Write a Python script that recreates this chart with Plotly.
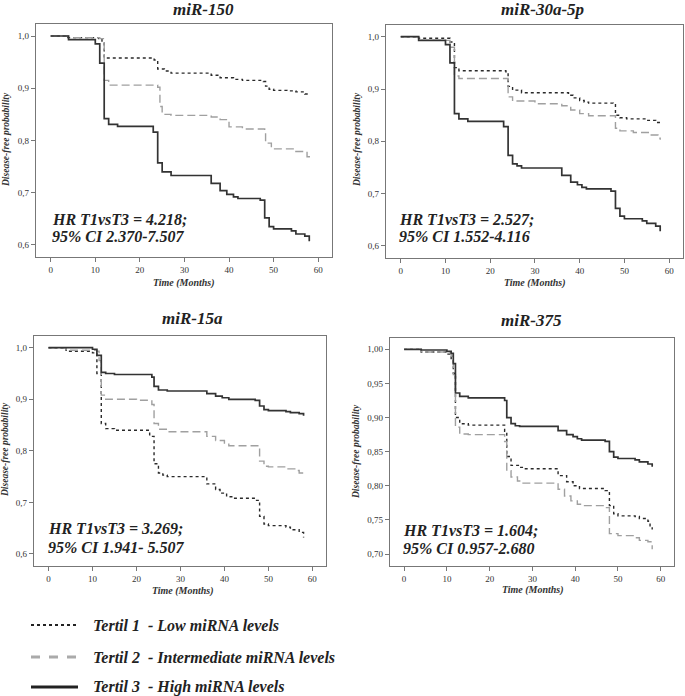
import plotly.graph_objects as go

# ---------------- data (Kaplan-Meier step curves) ----------------
panel_titles = ["miR-150", "miR-30a-5p", "miR-15a", "miR-375"]
hr_texts = [
    ["HR T1vsT3 = 4.218;", "95% CI 2.370-7.507"],
    ["HR T1vsT3 = 2.527;", "95% CI 1.552-4.116"],
    ["HR T1vsT3 = 3.269;", "95% CI 1.941- 5.507"],
    ["HR T1vsT3 = 1.604;", "95% CI 0.957-2.680"],
]
series_names = ["Tertil 1  - Low miRNA levels",
                "Tertil 2  - Intermediate miRNA levels",
                "Tertil 3  - High miRNA levels"]

# miR-150
p1_t1_x = [0, 3.6, 10.8, 11.5, 12, 23.2, 24, 25.5, 27, 36, 38, 41, 43, 47.7, 48.2, 49, 50, 53, 55, 57, 58]
p1_t1_y = [1.0, 0.997, 0.995, 0.988, 0.958, 0.954, 0.937, 0.933, 0.929, 0.925, 0.920, 0.917, 0.915, 0.913, 0.904, 0.898, 0.896, 0.895, 0.893, 0.889, 0.886]
p1_t2_x = [0, 4, 11, 12, 13, 24, 24.5, 25, 27, 36, 38, 40, 43, 48, 48.2, 49.5, 55, 57.5, 58]
p1_t2_y = [1.0, 0.997, 0.995, 0.915, 0.906, 0.902, 0.865, 0.850, 0.848, 0.845, 0.840, 0.826, 0.822, 0.820, 0.795, 0.784, 0.779, 0.769, 0.767]
p1_t3_x = [0, 4, 10, 11, 12, 13, 15, 23, 24, 25, 27, 36, 38, 39.5, 41, 42, 47, 48, 49, 50, 54, 55, 57, 58]
p1_t3_y = [1.0, 0.993, 0.985, 0.948, 0.842, 0.831, 0.827, 0.816, 0.757, 0.740, 0.733, 0.718, 0.704, 0.697, 0.692, 0.689, 0.686, 0.652, 0.635, 0.631, 0.627, 0.621, 0.617, 0.607]

# miR-30a-5p
p2_t1_x = [0, 4, 11, 12, 13, 23.5, 24, 25, 27, 37.5, 38.5, 40, 41, 42, 47.5, 48, 49, 50.5, 55, 57, 58]
p2_t1_y = [1.0, 0.997, 0.990, 0.941, 0.935, 0.933, 0.905, 0.898, 0.893, 0.888, 0.883, 0.878, 0.875, 0.873, 0.870, 0.850, 0.845, 0.843, 0.840, 0.836, 0.832]
p2_t2_x = [0, 4, 11, 12, 13, 24, 25, 30, 36, 38, 40, 42, 48, 49, 52, 56, 57.5, 58]
p2_t2_y = [1.0, 0.993, 0.980, 0.925, 0.920, 0.885, 0.877, 0.872, 0.868, 0.860, 0.853, 0.849, 0.825, 0.820, 0.817, 0.812, 0.806, 0.803]
p2_t3_x = [0, 4, 10, 11, 12, 13, 15, 23, 24, 25, 26, 27, 36, 38, 39.5, 40.5, 41.5, 47, 48, 49, 50, 54, 55, 57, 58]
p2_t3_y = [1.0, 0.993, 0.985, 0.950, 0.853, 0.843, 0.838, 0.828, 0.773, 0.757, 0.753, 0.749, 0.735, 0.722, 0.717, 0.712, 0.709, 0.705, 0.672, 0.657, 0.652, 0.648, 0.643, 0.638, 0.628]

# miR-15a
p3_t1_x = [0, 4, 10, 11, 12, 13, 15, 23, 24, 25, 26, 27, 36, 38, 39, 40.5, 42, 47, 48, 49, 50, 54, 55, 57, 58]
p3_t1_y = [1.0, 0.993, 0.990, 0.950, 0.853, 0.843, 0.840, 0.828, 0.775, 0.757, 0.753, 0.750, 0.736, 0.725, 0.718, 0.711, 0.708, 0.704, 0.673, 0.658, 0.655, 0.652, 0.647, 0.642, 0.632]
p3_t2_x = [0, 4, 11, 11.5, 12, 13, 20, 23.5, 24, 25, 27, 36, 38, 40, 41, 48, 49, 50, 54, 56, 57, 58]
p3_t2_y = [1.0, 0.995, 0.993, 0.975, 0.908, 0.900, 0.898, 0.890, 0.853, 0.842, 0.837, 0.828, 0.820, 0.815, 0.810, 0.780, 0.770, 0.769, 0.765, 0.762, 0.757, 0.750]
p3_t3_x = [0, 10, 11, 12, 13, 15, 23.5, 24, 25, 27, 36, 38, 39.5, 41, 47, 48, 49, 50, 54, 55, 57, 58]
p3_t3_y = [1.0, 0.997, 0.985, 0.952, 0.950, 0.948, 0.943, 0.925, 0.918, 0.916, 0.911, 0.906, 0.903, 0.900, 0.898, 0.887, 0.880, 0.878, 0.876, 0.874, 0.872, 0.868]

# miR-375
p4_t1_x = [0, 4, 10, 11, 11.5, 12, 13, 15, 23.5, 24, 25, 27, 28, 36, 38, 39.5, 41, 47, 48, 49, 50, 54, 55, 57, 57.5, 58]
p4_t1_y = [1.0, 0.996, 0.993, 0.985, 0.965, 0.900, 0.891, 0.889, 0.880, 0.843, 0.830, 0.827, 0.825, 0.815, 0.806, 0.800, 0.796, 0.793, 0.771, 0.759, 0.756, 0.755, 0.752, 0.748, 0.740, 0.736]
p4_t2_x = [0, 4, 11, 11.5, 12, 13, 15, 23.5, 24, 25, 26.5, 27.5, 36, 37.5, 39, 40.5, 42, 47, 48, 50, 54, 55, 57, 58]
p4_t2_y = [1.0, 0.996, 0.990, 0.963, 0.886, 0.876, 0.875, 0.865, 0.822, 0.813, 0.807, 0.804, 0.795, 0.785, 0.778, 0.773, 0.771, 0.768, 0.730, 0.727, 0.724, 0.720, 0.718, 0.707]
p4_t3_x = [0, 4, 10, 11, 11.5, 12, 13, 15, 23.5, 24, 25, 26, 27, 36, 38, 39.5, 40.5, 41.5, 47, 48, 49, 50, 54, 55, 57, 58]
p4_t3_y = [1.0, 0.999, 0.997, 0.994, 0.979, 0.936, 0.931, 0.929, 0.925, 0.900, 0.891, 0.888, 0.887, 0.881, 0.875, 0.872, 0.869, 0.867, 0.865, 0.850, 0.842, 0.840, 0.838, 0.835, 0.832, 0.828]

x_tick_vals = [0, 10, 20, 30, 40, 50, 60]
y_ticks_a = [0.6, 0.7, 0.8, 0.9, 1.0]
y_tick_text_a = ["0,6", "0,7", "0,8", "0,9", "1,0"]
y_ticks_b = [0.70, 0.75, 0.80, 0.85, 0.90, 0.95, 1.00]
y_tick_text_b = ["0,70", "0,75", "0,80", "0,85", "0,90", "0,95", "1,00"]

panels = [
    [(p1_t1_x, p1_t1_y), (p1_t2_x, p1_t2_y), (p1_t3_x, p1_t3_y)],
    [(p2_t1_x, p2_t1_y), (p2_t2_x, p2_t2_y), (p2_t3_x, p2_t3_y)],
    [(p3_t1_x, p3_t1_y), (p3_t2_x, p3_t2_y), (p3_t3_x, p3_t3_y)],
    [(p4_t1_x, p4_t1_y), (p4_t2_x, p4_t2_y), (p4_t3_x, p4_t3_y)],
]

# ---------------- layout geometry (pixels in a 685x696 page) ----------------
W, H = 685, 696
boxes = [  # left, right, top, bottom in px
    (36, 332, 24, 257),
    (386, 683, 25, 258),
    (34, 326, 336, 566),
    (390, 674, 338, 566),
]
yranges = [[0.577, 1.023], [0.577, 1.0224], [0.5767, 1.0227], [0.6825, 1.0166]]
xrange_ = [-3.3, 63.1]

SERIF = "Liberation Serif, Times New Roman, serif"
styles = [
    dict(color="#2a2a2a", width=1.4, dash="dot"),
    dict(color="#a0a0a0", width=1.4, dash="8px,4px"),
    dict(color="#333333", width=1.7, dash="solid"),
]

fig = go.Figure()
annotations = []
shapes = []

for i, (curves, box) in enumerate(zip(panels, boxes)):
    ax = "" if i == 0 else str(i + 1)
    for j, (xs, ys) in enumerate(curves):
        fig.add_trace(go.Scatter(
            x=xs, y=ys, mode="lines", line=dict(shape="hv", **styles[j]),
            name=series_names[j], showlegend=False, hoverinfo="skip",
            xaxis="x" + ax, yaxis="y" + ax,
        ))
    l, r, t, b = box
    if i == 3:
        tv, tt = y_ticks_b, y_tick_text_b
    else:
        tv, tt = y_ticks_a, y_tick_text_a
    fig.update_layout(**{
        "xaxis" + ax: dict(
            domain=[l / W, r / W], range=xrange_, anchor="y" + ax,
            tickvals=x_tick_vals, ticks="outside", ticklen=4, tickcolor="#777",
            showline=True, mirror=True, linecolor="#777", linewidth=1.2,
            showgrid=False, zeroline=False,
            tickfont=dict(family=SERIF, size=9, color="#333"),
        ),
        "yaxis" + ax: dict(
            domain=[1 - b / H, 1 - t / H], range=yranges[i], anchor="x" + ax,
            tickvals=tv, ticktext=tt, ticks="outside", ticklen=4, tickcolor="#777",
            showline=True, mirror=True, linecolor="#777", linewidth=1.2,
            showgrid=False, zeroline=False,
            tickfont=dict(family=SERIF, size=9, color="#333"),
        ),
    })

title_pos = [(203, 9), (542, 9), (192, 319), (531, 320)]
xtitle_pos = [(184, 283), (535, 283), (183, 591), (533, 590)]
ytitle_pos = [(6, 140), (357, 140), (5, 450), (356, 452)]
hr_pos = [(50, 219, 237), (397, 219, 237), (46, 528, 547), (401, 530, 548)]

for i in range(4):
    tx, ty = title_pos[i]
    annotations.append(dict(x=tx / W, y=1 - ty / H, xref="paper", yref="paper",
                            text="<b><i>%s</i></b>" % panel_titles[i], showarrow=False,
                            font=dict(family=SERIF, size=17, color="#222"),
                            xanchor="center", yanchor="middle"))
    xx, xy = xtitle_pos[i]
    annotations.append(dict(x=xx / W, y=1 - xy / H, xref="paper", yref="paper",
                            text="<b><i>Time (Months)</i></b>", showarrow=False,
                            font=dict(family=SERIF, size=10, color="#333"),
                            xanchor="center", yanchor="middle"))
    yx, yy = ytitle_pos[i]
    annotations.append(dict(x=yx / W, y=1 - yy / H, xref="paper", yref="paper",
                            text="<b><i>Disease-free probability</i></b>", showarrow=False,
                            textangle=-90,
                            font=dict(family=SERIF, size=9.5, color="#333"),
                            xanchor="center", yanchor="middle"))
    hx, hy1, hy2 = hr_pos[i]
    for txt, hy in zip(hr_texts[i], (hy1, hy2)):
        annotations.append(dict(x=hx / W, y=1 - hy / H, xref="paper", yref="paper",
                                text="<b><i>%s</i></b>" % txt, showarrow=False,
                                font=dict(family=SERIF, size=16, color="#222"),
                                xanchor="left", yanchor="middle"))

# ---------------- manual legend ----------------
leg_y = [625, 657, 687]
leg_line = [
    dict(color="#222", width=2, dash="dot"),
    dict(color="#aaaaaa", width=3, dash="dash"),
    dict(color="#222", width=3, dash="solid"),
]
for k in range(3):
    shapes.append(dict(type="line", xref="paper", yref="paper",
                       x0=31 / W, x1=78 / W, y0=1 - leg_y[k] / H, y1=1 - leg_y[k] / H,
                       line=leg_line[k]))
    annotations.append(dict(x=91 / W, y=1 - leg_y[k] / H, xref="paper", yref="paper",
                            text="<b><i>%s</i></b>" % series_names[k].replace("  ", "&nbsp; "),
                            showarrow=False,
                            font=dict(family=SERIF, size=16, color="#222"),
                            xanchor="left", yanchor="middle"))

fig.update_layout(
    width=W, height=H, margin=dict(l=0, r=0, t=0, b=0),
    paper_bgcolor="white", plot_bgcolor="white",
    annotations=annotations, shapes=shapes, showlegend=False,
    hovermode=False,
)

fig.write_html("out.html", config={"displayModeBar": False},
               post_script="document.body.style.margin='0px';document.body.style.overflow='hidden';")
